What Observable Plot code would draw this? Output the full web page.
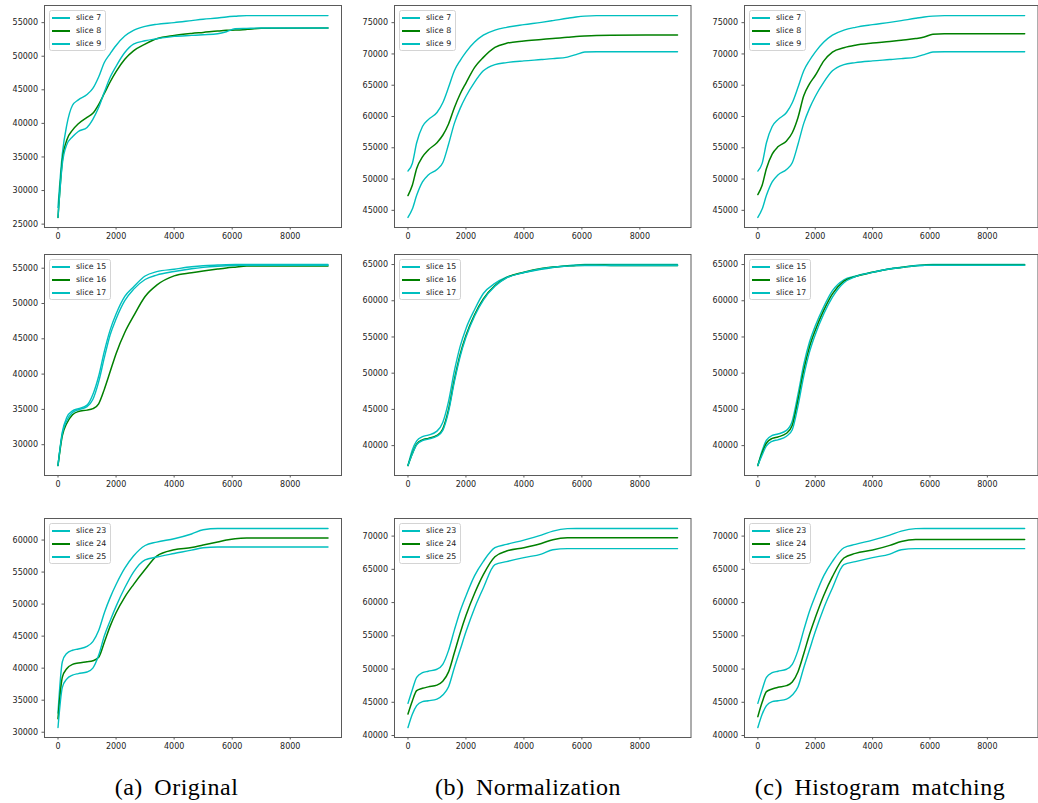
<!DOCTYPE html>
<html><head><meta charset="utf-8">
<script src="https://cdn.jsdelivr.net/npm/d3@7"></script>
<script src="https://cdn.jsdelivr.net/npm/@observablehq/plot@0.6"></script>
<style>
html,body{margin:0;padding:0;background:#fff;overflow:hidden}
#root{position:relative;width:1038px;height:803px;overflow:hidden}
.panel{position:absolute}
.legend{position:absolute;background:rgba(255,255,255,0.85);border:1px solid #d4d4d4;border-radius:2.5px;padding:0 4px 0 2px;font-family:"DejaVu Sans";font-size:7.9px;color:#222;}
.legend .row{display:flex;align-items:flex-start;height:13px;white-space:nowrap}
.legend .row span.tx{line-height:13px}
.legend .sw{display:inline-block;width:18px;margin-right:6px;margin-top:6px}
.cap{position:absolute;font-family:"Liberation Serif";font-size:24px;line-height:24px;color:#000;white-space:nowrap;transform:translateX(-50%);letter-spacing:0.5px;word-spacing:5px}
</style></head><body><div id="root"></div>
<script>
// shared x positions (iteration)
const X = [0,150,300,500,700,1000,1200,1400,1600,1800,2000,2300,2600,3000,3400,4000,4600,5000,5500,5800,6100,6500,7000,9300];
const xTicks = [0,2000,4000,6000,8000];

// (a) Original, top row: slices 7, 8, 9
const a7 = [27500,35500,39700,42700,43500,44300,45200,46900,49100,50400,51600,53000,53850,54450,54750,55000,55300,55500,55700,55850,55950,56050,56050,56050];
const a8 = [26000,34500,37500,39000,39950,40900,41500,42800,44500,46200,47700,49550,50800,51800,52600,53100,53400,53550,53750,53850,53900,54000,54150,54200];
const a9 = [26000,34000,36800,38000,38800,39400,40600,42350,44700,46900,48500,50550,51800,52300,52600,52950,53100,53200,53350,53650,54100,54150,54200,54200];
// (b) Normalization, top row
const b7 = [51270,52500,55800,58400,59500,60640,62200,64660,67300,68950,70300,71900,73000,73800,74250,74680,75050,75330,75700,75900,76050,76130,76130,76130];
const b8 = [47360,49000,51700,53550,54650,55820,57000,58800,61400,63600,65350,67850,69450,71050,71700,72050,72300,72470,72650,72780,72870,72960,73000,73020];
const b9 = [43870,45200,47400,49550,50650,51540,52600,55560,58900,61300,63200,65500,67300,68300,68620,68890,69100,69250,69500,69900,70300,70340,70340,70340];
// (c) Histogram matching, top row
const c7 = [51270,52500,55800,58400,59500,60640,62200,64660,67300,68950,70300,71900,73000,73800,74250,74680,75050,75330,75700,75900,76050,76130,76130,76130];
const c8 = [47520,49000,51700,54000,55150,56090,57400,59840,63300,65200,66550,68900,70300,71000,71400,71730,72000,72200,72450,72700,73150,73230,73230,73230];
const c9 = [43870,45200,47400,49550,50650,51540,52600,55560,58900,61300,63200,65500,67300,68300,68620,68890,69100,69250,69500,69900,70300,70340,70340,70340];

// middle row: slices 15, 16, 17
const a15 = [27060,31800,33850,34800,35100,35600,37100,39700,43300,46300,48500,51000,52350,53900,54520,54860,55200,55350,55450,55500,55520,55520,55520,55520];
const a16 = [27060,31300,33000,34250,34700,34900,35100,35800,37900,40400,42900,45900,48200,51000,52600,53910,54350,54600,54880,55030,55150,55300,55330,55330];
const a17 = [27060,31600,33400,34550,34950,35400,36400,38900,42400,45600,47800,50400,52000,53400,54030,54530,54930,55120,55280,55350,55390,55430,55430,55430];
const b15 = [37260,39400,40650,41250,41450,42000,43200,46100,50300,53700,56150,58800,61000,62400,63250,63880,64350,64600,64850,64950,65000,65000,65000,65000];
const b16 = [37260,38900,40200,40800,41000,41400,42300,45000,49100,52600,55200,58100,60250,62100,63200,63930,64450,64650,64800,64880,64910,64900,64880,64860];
const b17 = [37260,38850,40100,40700,40900,41300,42100,44700,48800,52300,54950,57900,60100,62000,63150,63900,64420,64630,64780,64850,64870,64860,64850,64850];
const c15 = [37260,39300,40750,41400,41600,42100,43400,47100,51200,54300,56500,59200,61400,62900,63400,63950,64420,64620,64870,64950,65000,65000,65000,65000];
const c16 = [37260,39000,40350,41000,41200,41700,42800,46300,50400,53600,55900,58700,60950,62700,63350,63930,64400,64600,64850,64920,64950,64950,64950,64950];
const c17 = [37260,38700,39950,40600,40800,41300,42200,45500,49600,52900,55300,58200,60500,62500,63320,63910,64380,64580,64830,64880,64900,64900,64900,64900];

// bottom row: slices 23, 24, 25
const a23 = [33000,41000,42300,42800,43000,43400,44150,45880,48700,51050,53050,55600,57500,59150,59680,60210,60950,61600,61810,61810,61810,61810,61810,61810];
const a24 = [32120,38600,39900,40600,40800,41000,41150,41700,44100,46600,48650,51100,53050,55400,57500,58480,58830,59230,59700,60000,60220,60310,60310,60310];
const a25 = [30730,37000,38300,38900,39150,39400,40000,42000,45100,47450,49650,52550,55000,56900,57350,57900,58420,58800,58910,58910,58910,58910,58910,58910];
const b23 = [44840,46900,48750,49450,49670,49970,50700,52810,55850,58700,61000,64050,66200,68250,68750,69400,70150,70750,71120,71150,71150,71150,71150,71150];
const b24 = [43240,45200,46750,47100,47320,47580,48150,49570,52450,55400,58050,61400,64200,66900,67750,68260,68900,69450,69740,69750,69750,69750,69750,69750];
const b25 = [41200,43200,44500,45100,45240,45480,46100,47330,50200,52900,55600,59200,62200,65700,66150,66760,67300,67950,68110,68110,68110,68110,68110,68110];
const c23 = [44840,46900,48750,49450,49670,49970,50700,52810,55850,58700,61000,64050,66200,68250,68750,69400,70150,70750,71120,71150,71150,71150,71150,71150];
const c24 = [42840,45000,46600,47000,47250,47500,48050,49600,52300,55200,57700,61100,63900,66700,67400,67900,68600,69200,69500,69500,69500,69500,69500,69500];
const c25 = [41200,43200,44500,45100,45240,45480,46100,47330,50200,52900,55600,59200,62200,65700,66150,66760,67300,67950,68110,68110,68110,68110,68110,68110];

const labelsTop = ["slice 7","slice 8","slice 9"];
const labelsMid = ["slice 15","slice 16","slice 17"];
const labelsBot = ["slice 23","slice 24","slice 25"];
const captions = ["(a) Original","(b) Normalization","(c) Histogram matching"];
const colors = ["#00bfbf","#008000","#00bfbf"];
const widths = [1.4,1.5,1.4];
const legendWidths = [1.5,2,1.5];

const panels = [
  {r:0,c:0,labels:labelsTop,series:[a7,a8,a9]},
  {r:0,c:1,labels:labelsTop,series:[b7,b8,b9]},
  {r:0,c:2,labels:labelsTop,series:[c7,c8,c9]},
  {r:1,c:0,labels:labelsMid,series:[a15,a16,a17]},
  {r:1,c:1,labels:labelsMid,series:[b15,b16,b17]},
  {r:1,c:2,labels:labelsMid,series:[c15,c16,c17]},
  {r:2,c:0,labels:labelsBot,series:[a23,a24,a25]},
  {r:2,c:1,labels:labelsBot,series:[b23,b24,b25]},
  {r:2,c:2,labels:labelsBot,series:[c23,c24,c25]}
];

const colL = [43.5,393.5,743.5], colR = [340.5,690,1037];
const rowT = [5,254,518], rowB = [227,475,737];
const ml = 44, mr = 1, mt = 2, mb = 22;
const root = document.getElementById("root");

for (const p of panels) {
  const fw = colR[p.c]-colL[p.c], fh = rowB[p.r]-rowT[p.r];
  const all = p.series.flat();
  const lo = d3.min(all), hi = d3.max(all), pad = (hi-lo)*0.05;
  const yTicks = d3.range(Math.ceil((lo-pad)/5000)*5000, hi+pad, 5000);
  const svg = Plot.plot({
    width: fw+ml+mr, height: fh+mt+mb,
    marginLeft: ml, marginRight: mr, marginTop: mt, marginBottom: mb,
    style: {fontFamily:"DejaVu Sans", fontSize:"8px", color:"#222", background:"transparent", overflow:"visible"},
    x: {domain:[-465, 9765]},
    y: {domain:[lo-pad, hi+pad]},
    marks: [
      ...p.series.map((s,i) => Plot.line(X.map((x,j)=>({x, y:s[j]})), {x:"x", y:"y", stroke:colors[i], strokeWidth:widths[i], curve:"monotone-x"})),
      Plot.frame({stroke:"#5a5a5a", strokeWidth:1}),
      Plot.axisX({ticks:xTicks, tickSize:2.5, tickPadding:3, tickFormat:d=>String(d), label:null, stroke:"#5a5a5a", fill:"#222"}),
      Plot.axisY({ticks:yTicks, tickSize:2.5, tickPadding:4, tickFormat:d=>String(d), label:null, stroke:"#5a5a5a", fill:"#222"})
    ]
  });
  svg.classList.add("panel");
  svg.style.left = (colL[p.c]-ml)+"px";
  svg.style.top = (rowT[p.r]-mt)+"px";
  root.appendChild(svg);

  const lg = document.createElement("div");
  lg.className = "legend";
  lg.style.left = Math.round(colL[p.c]+5)+"px";
  lg.style.top = Math.round(rowT[p.r]+5)+"px";
  p.labels.forEach((t,i) => {
    const row = document.createElement("div");
    row.className = "row";
    const sw = document.createElement("span");
    sw.className = "sw";
    sw.style.height = legendWidths[i]+"px";
    sw.style.background = colors[i];
    row.appendChild(sw);
    const tx = document.createElement("span");
    tx.className = "tx";
    tx.textContent = t;
    row.appendChild(tx);
    lg.appendChild(row);
  });
  root.appendChild(lg);
}

const capX = [176.5,528,880];
captions.forEach((t,i) => {
  const d = document.createElement("div");
  d.className = "cap";
  d.textContent = t;
  d.style.left = capX[i]+"px";
  d.style.top = "774.5px";
  root.appendChild(d);
});
</script>
</body></html>
